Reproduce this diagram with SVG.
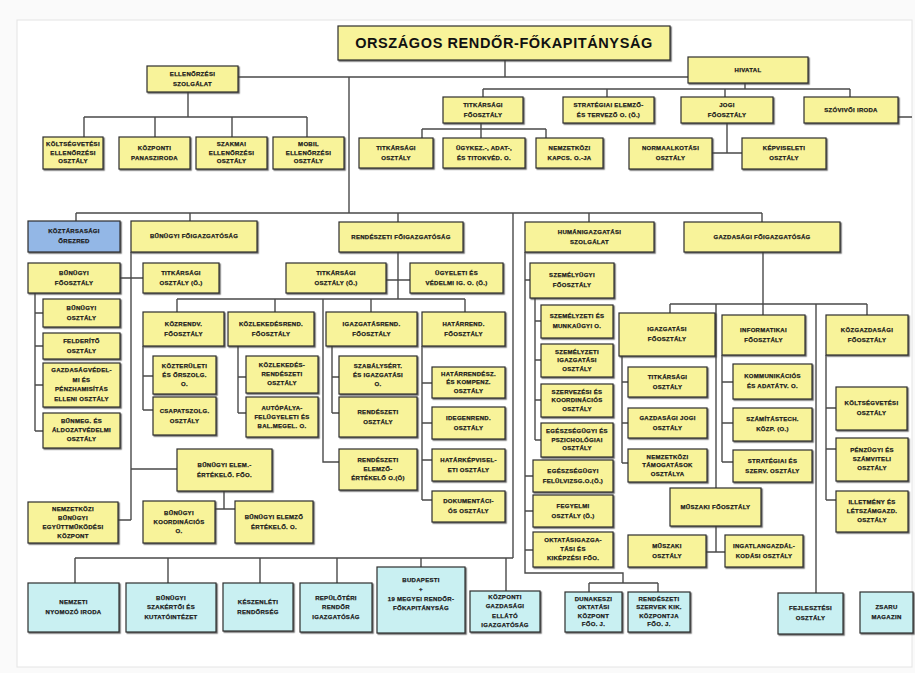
<svg xmlns="http://www.w3.org/2000/svg" width="915" height="673" viewBox="0 0 915 673">
<defs>
<filter id="sh" x="-10%" y="-10%" width="130%" height="140%">
<feDropShadow dx="1.2" dy="1.2" stdDeviation="0.4" flood-color="#444" flood-opacity="0.8"/>
</filter>
<style>
.b{fill:#f8f39a;stroke:#2e2e2e;stroke-width:1.2;filter:url(#sh)}
.c{fill:#c9f0f2;stroke:#2e2e2e;stroke-width:1.2;filter:url(#sh)}
.k{fill:#93b7e6;stroke:#2e2e2e;stroke-width:1.2;filter:url(#sh)}
.t{font-family:"Liberation Sans",Arial,sans-serif;font-weight:bold;font-size:6px;letter-spacing:0.3px;fill:#1a1a1a;stroke:#1a1a1a;stroke-width:0.25px;text-anchor:middle}
.ti{font-family:"Liberation Sans",Arial,sans-serif;font-weight:bold;font-size:14.5px;letter-spacing:0.6px;fill:#111;text-anchor:middle}
.l{fill:none;stroke:#4a4a4a;stroke-width:1.4}
</style>
</defs>
<rect x="0" y="0" width="915" height="673" fill="#fafafa"/>
<rect x="17" y="20" width="895" height="647" fill="#ffffff" stroke="#e4e4e4" stroke-width="1"/>

<g id="connectors" class="l">
<path d="M505,60V77M238,77H688M349,77V213"/>
<path d="M188,92V117M84,117H307M84,117V137M155,117V137M232,117V137M307,117V137"/>
<path d="M745,83V89M483,89H850M483,89V97M607,89V97M725,89V97M850,89V97M898,117H912"/>
<path d="M481,123V138M422,129H546M422,129V138M546,129V138"/>
<path d="M727,123V153M712,153H742"/>
<path d="M76,213H762M76,213V221M190,213V221M398,213V222M589,213V222M762,213V222M513,213V558"/>
<path d="M75,558H513M75,558V583M168,558V583M260,558V583M337,558V583M421,558V567M506,558V591"/>
<path d="M131,252V520M118,520H131M131,469H177M120,278H143"/>
<path d="M35,293V431M35,313H43M35,346H43M35,385H43M35,431H43"/>
<path d="M224,491V509M215,509H235"/>
<path d="M398,252V299M386,280H410M177,299H465M177,299V312M275,299V312M371,299V312M465,299V312M323,299V462H339"/>
<path d="M143,346V410M143,376H153M143,410H153"/>
<path d="M238,346V413M238,377H246M238,413H246"/>
<path d="M332,346V413M332,377H339M332,413H339"/>
<path d="M422,346V500M422,383H432M422,423H432M422,460H432M422,500H432"/>
<path d="M525,252V573H623V583M589,583H658M589,583V592M658,583V592M525,280H530M525,476H533M525,511H533M525,550H533"/>
<path d="M535,298V440M535,321H541M535,360H541M535,400H541M535,440H541"/>
<path d="M763,252V315M670,304H867M670,304V313M716,304V488M816,304V593M867,304V315"/>
<path d="M622,356V463M622,382H628M622,423H628M622,463H628"/>
<path d="M722,355V462M722,382H733M722,423H733M722,462H733"/>
<path d="M716,526V552M706,552H725"/>
<path d="M826,355V500M826,408H836M826,449H836M826,500H836"/>
</g>

<g id="n-orfk"><rect class="b" x="338" y="26" width="332" height="34"/><text class="ti" x="504" y="48">ORSZÁGOS RENDŐR-FŐKAPITÁNYSÁG</text></g>
<g id="n-ellenorzesi"><rect class="b" x="147" y="66" width="91" height="26"/><text class="t" x="192.5" y="75.5">ELLENŐRZÉSI</text><text class="t" x="192.5" y="85.5">SZOLGÁLAT</text></g>
<g id="n-koltsegvetesi-ell"><rect class="b" x="43" y="137" width="60" height="32"/><text class="t" x="73" y="146">KÖLTSÉGVETÉSI</text><text class="t" x="73" y="154.5">ELLENŐRZÉSI</text><text class="t" x="73" y="163">OSZTÁLY</text></g>
<g id="n-kozponti-panasz"><rect class="b" x="119" y="137" width="71" height="32"/><text class="t" x="154.5" y="149.5">KÖZPONTI</text><text class="t" x="154.5" y="159.5">PANASZIRODA</text></g>
<g id="n-szakmai-ell"><rect class="b" x="196" y="137" width="71" height="32"/><text class="t" x="231.5" y="146">SZAKMAI</text><text class="t" x="231.5" y="154.5">ELLENŐRZÉSI</text><text class="t" x="231.5" y="163">OSZTÁLY</text></g>
<g id="n-mobil-ell"><rect class="b" x="273" y="137" width="71" height="32"/><text class="t" x="308.5" y="146">MOBIL</text><text class="t" x="308.5" y="154.5">ELLENŐRZÉSI</text><text class="t" x="308.5" y="163">OSZTÁLY</text></g>
<g id="n-hivatal"><rect class="b" x="688" y="57" width="120" height="26"/><text class="t" x="748" y="71.5">HIVATAL</text></g>
<g id="n-titkarsagi-fo"><rect class="b" x="443" y="97" width="80" height="26"/><text class="t" x="483" y="106.5">TITKÁRSÁGI</text><text class="t" x="483" y="116.5">FŐOSZTÁLY</text></g>
<g id="n-strategiai"><rect class="b" x="563" y="97" width="91" height="26"/><text class="t" x="608.5" y="106.5">STRATÉGIAI ELEMZŐ-</text><text class="t" x="608.5" y="116.5">ÉS TERVEZŐ O. (Ö.)</text></g>
<g id="n-jogi"><rect class="b" x="681" y="97" width="92" height="26"/><text class="t" x="727" y="106.5">JOGI</text><text class="t" x="727" y="116.5">FŐOSZTÁLY</text></g>
<g id="n-szovivoi"><rect class="b" x="804" y="97" width="94" height="26"/><text class="t" x="851" y="111.5">SZÓVIVŐI IRODA</text></g>
<g id="n-titkarsagi-o"><rect class="b" x="359" y="138" width="74" height="30"/><text class="t" x="396" y="149.5">TITKÁRSÁGI</text><text class="t" x="396" y="159.5">OSZTÁLY</text></g>
<g id="n-ugykez"><rect class="b" x="443" y="138" width="82" height="30"/><text class="t" x="484" y="149.5">ÜGYKEZ.-, ADAT-,</text><text class="t" x="484" y="159.5">ÉS TITOKVÉD. O.</text></g>
<g id="n-nemzetkozi-kapcs"><rect class="b" x="536" y="138" width="67" height="30"/><text class="t" x="569.5" y="149.5">NEMZETKÖZI</text><text class="t" x="569.5" y="159.5">KAPCS. O.-JA</text></g>
<g id="n-normaalkotasi"><rect class="b" x="629" y="138" width="83" height="31"/><text class="t" x="670.5" y="150">NORMAALKOTÁSI</text><text class="t" x="670.5" y="160">OSZTÁLY</text></g>
<g id="n-kepviseleti"><rect class="b" x="742" y="138" width="84" height="31"/><text class="t" x="784" y="150">KÉPVISELETI</text><text class="t" x="784" y="160">OSZTÁLY</text></g>
<g id="n-orezred"><rect class="k" x="28" y="221" width="92" height="31"/><text class="t" x="74" y="233">KÖZTÁRSASÁGI</text><text class="t" x="74" y="243">ŐREZRED</text></g>
<g id="n-bunugyi-fig"><rect class="b" x="131" y="221" width="126" height="31"/><text class="t" x="194" y="238">BŰNÜGYI FŐIGAZGATÓSÁG</text></g>
<g id="n-rendeszeti-fig"><rect class="b" x="339" y="222" width="124" height="30"/><text class="t" x="401" y="238.5">RENDÉSZETI FŐIGAZGATÓSÁG</text></g>
<g id="n-human"><rect class="b" x="525" y="222" width="129" height="30"/><text class="t" x="589.5" y="233.5">HUMÁNIGAZGATÁSI</text><text class="t" x="589.5" y="243.5">SZOLGÁLAT</text></g>
<g id="n-gazdasagi-fig"><rect class="b" x="684" y="222" width="156" height="30"/><text class="t" x="762" y="238.5">GAZDASÁGI FŐIGAZGATÓSÁG</text></g>
<g id="n-bunugyi-fo"><rect class="b" x="28" y="263" width="92" height="30"/><text class="t" x="74" y="274.5">BŰNÜGYI</text><text class="t" x="74" y="284.5">FŐOSZTÁLY</text></g>
<g id="n-b-titkarsagi"><rect class="b" x="143" y="263" width="76" height="30"/><text class="t" x="181" y="274.5">TITKÁRSÁGI</text><text class="t" x="181" y="284.5">OSZTÁLY (Ö.)</text></g>
<g id="n-r-titkarsagi"><rect class="b" x="286" y="263" width="100" height="30"/><text class="t" x="336" y="274.5">TITKÁRSÁGI</text><text class="t" x="336" y="284.5">OSZTÁLY (Ö.)</text></g>
<g id="n-ugyeleti"><rect class="b" x="410" y="263" width="93" height="30"/><text class="t" x="456.5" y="274.5">ÜGYELETI ÉS</text><text class="t" x="456.5" y="284.5">VÉDELMI IG. O. (Ö.)</text></g>
<g id="n-szemelyugyi"><rect class="b" x="530" y="263" width="84" height="35"/><text class="t" x="572" y="277">SZEMÉLYÜGYI</text><text class="t" x="572" y="287">FŐOSZTÁLY</text></g>
<g id="n-bunugyi-o"><rect class="b" x="43" y="299" width="77" height="28"/><text class="t" x="81.5" y="309.5">BŰNÜGYI</text><text class="t" x="81.5" y="319.5">OSZTÁLY</text></g>
<g id="n-felderito"><rect class="b" x="43" y="333" width="77" height="26"/><text class="t" x="81.5" y="342.5">FELDERÍTŐ</text><text class="t" x="81.5" y="352.5">OSZTÁLY</text></g>
<g id="n-gazdasagvedelmi"><rect class="b" x="43" y="363" width="77" height="44"/><text class="t" x="81.5" y="372.3">GAZDASÁGVÉDEL-</text><text class="t" x="81.5" y="381.8">MI ÉS</text><text class="t" x="81.5" y="391.3">PÉNZHAMISÍTÁS</text><text class="t" x="81.5" y="400.8">ELLENI OSZTÁLY</text></g>
<g id="n-bunmeg"><rect class="b" x="43" y="413" width="77" height="35"/><text class="t" x="81.5" y="423">BŰNMEG. ÉS</text><text class="t" x="81.5" y="432">ÁLDOZATVÉDELMI</text><text class="t" x="81.5" y="441">OSZTÁLY</text></g>
<g id="n-kozrendv"><rect class="b" x="143" y="312" width="81" height="34"/><text class="t" x="183.5" y="325.5">KÖZRENDV.</text><text class="t" x="183.5" y="335.5">FŐOSZTÁLY</text></g>
<g id="n-kozlekedesrend"><rect class="b" x="228" y="312" width="86" height="34"/><text class="t" x="271" y="325.5">KÖZLEKEDÉSREND.</text><text class="t" x="271" y="335.5">FŐOSZTÁLY</text></g>
<g id="n-igazgatasrend"><rect class="b" x="326" y="312" width="91" height="34"/><text class="t" x="371.5" y="325.5">IGAZGATÁSREND.</text><text class="t" x="371.5" y="335.5">FŐOSZTÁLY</text></g>
<g id="n-hatarrend"><rect class="b" x="422" y="312" width="83" height="34"/><text class="t" x="463.5" y="325.5">HATÁRREND.</text><text class="t" x="463.5" y="335.5">FŐOSZTÁLY</text></g>
<g id="n-kozteruleti"><rect class="b" x="153" y="356" width="63" height="38"/><text class="t" x="184.5" y="367.5">KÖZTERÜLETI</text><text class="t" x="184.5" y="376.5">ÉS ŐRSZOLG.</text><text class="t" x="184.5" y="385.5">O.</text></g>
<g id="n-csapatszolg"><rect class="b" x="153" y="397" width="63" height="38"/><text class="t" x="184.5" y="412.5">CSAPATSZOLG.</text><text class="t" x="184.5" y="422.5">OSZTÁLY</text></g>
<g id="n-kozlekedes-rend-o"><rect class="b" x="246" y="356" width="72" height="37"/><text class="t" x="282" y="367">KÖZLEKEDÉS-</text><text class="t" x="282" y="376">RENDÉSZETI</text><text class="t" x="282" y="385">OSZTÁLY</text></g>
<g id="n-autopalya"><rect class="b" x="246" y="397" width="72" height="40"/><text class="t" x="282" y="409.5">AUTÓPÁLYA-</text><text class="t" x="282" y="418.5">FELÜGYELETI ÉS</text><text class="t" x="282" y="427.5">BAL.MEGEL. O.</text></g>
<g id="n-szabalysert"><rect class="b" x="339" y="356" width="78" height="38"/><text class="t" x="378" y="367.5">SZABÁLYSÉRT.</text><text class="t" x="378" y="376.5">ÉS IGAZGATÁSI</text><text class="t" x="378" y="385.5">O.</text></g>
<g id="n-rendeszeti-o"><rect class="b" x="339" y="397" width="78" height="40"/><text class="t" x="378" y="413.5">RENDÉSZETI</text><text class="t" x="378" y="423.5">OSZTÁLY</text></g>
<g id="n-rendeszeti-elemzo"><rect class="b" x="339" y="449" width="78" height="41"/><text class="t" x="378" y="462">RENDÉSZETI</text><text class="t" x="378" y="471">ELEMZŐ-</text><text class="t" x="378" y="480">ÉRTÉKELŐ O.(Ö)</text></g>
<g id="n-hatarrendesz"><rect class="b" x="432" y="367" width="73" height="31"/><text class="t" x="468.5" y="375.5">HATÁRRENDÉSZ.</text><text class="t" x="468.5" y="384">ÉS KOMPENZ.</text><text class="t" x="468.5" y="392.5">OSZTÁLY</text></g>
<g id="n-idegenrend"><rect class="b" x="432" y="407" width="73" height="32"/><text class="t" x="468.5" y="419.5">IDEGENREND.</text><text class="t" x="468.5" y="429.5">OSZTÁLY</text></g>
<g id="n-hatarkepvis"><rect class="b" x="432" y="449" width="73" height="32"/><text class="t" x="468.5" y="461.5">HATÁRKÉPVISEL-</text><text class="t" x="468.5" y="471.5">ETI OSZTÁLY</text></g>
<g id="n-dokumentacios"><rect class="b" x="432" y="491" width="73" height="31"/><text class="t" x="468.5" y="503">DOKUMENTÁCI-</text><text class="t" x="468.5" y="513">ÓS OSZTÁLY</text></g>
<g id="n-bunugyi-elem-fo"><rect class="b" x="177" y="449" width="95" height="42"/><text class="t" x="224.5" y="466.5">BŰNÜGYI ELEM.-</text><text class="t" x="224.5" y="476.5">ÉRTÉKELŐ. FŐO.</text></g>
<g id="n-bunugyi-koord"><rect class="b" x="143" y="501" width="72" height="42"/><text class="t" x="179" y="514.5">BŰNÜGYI</text><text class="t" x="179" y="523.5">KOORDINÁCIÓS</text><text class="t" x="179" y="532.5">O.</text></g>
<g id="n-bunugyi-elemzo-o"><rect class="b" x="235" y="501" width="78" height="42"/><text class="t" x="274" y="518.5">BŰNÜGYI ELEMZŐ</text><text class="t" x="274" y="528.5">ÉRTÉKELŐ. O.</text></g>
<g id="n-nemzetkozi-bunugyi"><rect class="b" x="28" y="502" width="90" height="41"/><text class="t" x="73" y="510.5">NEMZETKÖZI</text><text class="t" x="73" y="519.5">BŰNÜGYI</text><text class="t" x="73" y="528.5">EGYÜTTMŰKÖDÉSI</text><text class="t" x="73" y="537.5">KÖZPONT</text></g>
<g id="n-szem-munkaugyi"><rect class="b" x="541" y="305" width="72" height="33"/><text class="t" x="577" y="318">SZEMÉLYZETI ÉS</text><text class="t" x="577" y="328">MUNKAÜGYI O.</text></g>
<g id="n-szem-igazgatasi"><rect class="b" x="541" y="344" width="72" height="33"/><text class="t" x="577" y="353.5">SZEMÉLYZETI</text><text class="t" x="577" y="362">IGAZGATÁSI</text><text class="t" x="577" y="370.5">OSZTÁLY</text></g>
<g id="n-szervezesi"><rect class="b" x="541" y="384" width="72" height="33"/><text class="t" x="577" y="393.5">SZERVEZÉSI ÉS</text><text class="t" x="577" y="402">KOORDINÁCIÓS</text><text class="t" x="577" y="410.5">OSZTÁLY</text></g>
<g id="n-egeszsegugyi-psz"><rect class="b" x="541" y="423" width="72" height="34"/><text class="t" x="577" y="433">EGÉSZSÉGÜGYI ÉS</text><text class="t" x="577" y="441.5">PSZICHOLÓGIAI</text><text class="t" x="577" y="450">OSZTÁLY</text></g>
<g id="n-eg-felulvizsg"><rect class="b" x="533" y="460" width="80" height="32"/><text class="t" x="573" y="472.5">EGÉSZSÉGÜGYI</text><text class="t" x="573" y="482.5">FELÜLVIZSG.O.(Ö.)</text></g>
<g id="n-fegyelmi"><rect class="b" x="533" y="495" width="80" height="32"/><text class="t" x="573" y="507.5">FEGYELMI</text><text class="t" x="573" y="517.5">OSZTÁLY (Ö.)</text></g>
<g id="n-oktatasi"><rect class="b" x="533" y="532" width="80" height="35"/><text class="t" x="573" y="542">OKTATÁSIGAZGA-</text><text class="t" x="573" y="551">TÁSI ÉS</text><text class="t" x="573" y="560">KIKÉPZÉSI FŐO.</text></g>
<g id="n-igazgatasi-fo"><rect class="b" x="619" y="313" width="96" height="43"/><text class="t" x="667" y="331">IGAZGATÁSI</text><text class="t" x="667" y="341">FŐOSZTÁLY</text></g>
<g id="n-g-titkarsagi"><rect class="b" x="628" y="367" width="79" height="30"/><text class="t" x="667.5" y="378.5">TITKÁRSÁGI</text><text class="t" x="667.5" y="388.5">OSZTÁLY</text></g>
<g id="n-gazdasagi-jogi"><rect class="b" x="628" y="408" width="79" height="30"/><text class="t" x="667.5" y="419.5">GAZDASÁGI JOGI</text><text class="t" x="667.5" y="429.5">OSZTÁLY</text></g>
<g id="n-nemzetkozi-tam"><rect class="b" x="628" y="449" width="79" height="33"/><text class="t" x="667.5" y="458.5">NEMZETKÖZI</text><text class="t" x="667.5" y="467">TÁMOGATÁSOK</text><text class="t" x="667.5" y="475.5">OSZTÁLYA</text></g>
<g id="n-informatikai"><rect class="b" x="722" y="315" width="83" height="40"/><text class="t" x="763.5" y="331.5">INFORMATIKAI</text><text class="t" x="763.5" y="341.5">FŐOSZTÁLY</text></g>
<g id="n-kommunikacios"><rect class="b" x="733" y="364" width="79" height="35"/><text class="t" x="772.5" y="378">KOMMUNIKÁCIÓS</text><text class="t" x="772.5" y="388">ÉS ADATÁTV. O.</text></g>
<g id="n-szamitastech"><rect class="b" x="733" y="408" width="79" height="33"/><text class="t" x="772.5" y="421">SZÁMÍTÁSTECH.</text><text class="t" x="772.5" y="431">KÖZP. (O.)</text></g>
<g id="n-strategiai-szerv"><rect class="b" x="733" y="450" width="79" height="32"/><text class="t" x="772.5" y="462.5">STRATÉGIAI ÉS</text><text class="t" x="772.5" y="472.5">SZERV. OSZTÁLY</text></g>
<g id="n-kozgazdasagi"><rect class="b" x="826" y="315" width="82" height="40"/><text class="t" x="867" y="331.5">KÖZGAZDASÁGI</text><text class="t" x="867" y="341.5">FŐOSZTÁLY</text></g>
<g id="n-koltsegvetesi-o"><rect class="b" x="836" y="387" width="71" height="43"/><text class="t" x="871.5" y="405">KÖLTSÉGVETÉSI</text><text class="t" x="871.5" y="415">OSZTÁLY</text></g>
<g id="n-penzugyi"><rect class="b" x="836" y="438" width="72" height="43"/><text class="t" x="872" y="452">PÉNZÜGYI ÉS</text><text class="t" x="872" y="461">SZÁMVITELI</text><text class="t" x="872" y="470">OSZTÁLY</text></g>
<g id="n-illetmeny"><rect class="b" x="836" y="491" width="72" height="41"/><text class="t" x="872" y="504">ILLETMÉNY ÉS</text><text class="t" x="872" y="513">LÉTSZÁMGAZD.</text><text class="t" x="872" y="522">OSZTÁLY</text></g>
<g id="n-muszaki-fo"><rect class="b" x="670" y="488" width="91" height="38"/><text class="t" x="715.5" y="508.5">MŰSZAKI FŐOSZTÁLY</text></g>
<g id="n-muszaki-o"><rect class="b" x="628" y="535" width="78" height="32"/><text class="t" x="667" y="547.5">MŰSZAKI</text><text class="t" x="667" y="557.5">OSZTÁLY</text></g>
<g id="n-ingatlan"><rect class="b" x="725" y="535" width="78" height="32"/><text class="t" x="764" y="547.5">INGATLANGAZDÁL-</text><text class="t" x="764" y="557.5">KODÁSI OSZTÁLY</text></g>
<g id="n-nni"><rect class="c" x="28" y="583" width="91" height="49"/><text class="t" x="73.5" y="604">NEMZETI</text><text class="t" x="73.5" y="614">NYOMOZÓ IRODA</text></g>
<g id="n-bszki"><rect class="c" x="126" y="583" width="90" height="49"/><text class="t" x="171" y="599.5">BŰNÜGYI</text><text class="t" x="171" y="609">SZAKÉRTŐI ÉS</text><text class="t" x="171" y="618.5">KUTATÓINTÉZET</text></g>
<g id="n-kr"><rect class="c" x="223" y="583" width="70" height="48"/><text class="t" x="258" y="603.5">KÉSZENLÉTI</text><text class="t" x="258" y="613.5">RENDŐRSÉG</text></g>
<g id="n-rri"><rect class="c" x="300" y="583" width="72" height="49"/><text class="t" x="336" y="599.5">REPÜLŐTÉRI</text><text class="t" x="336" y="609">RENDŐR</text><text class="t" x="336" y="618.5">IGAZGATÓSÁG</text></g>
<g id="n-brfk"><rect class="c" x="377" y="567" width="88" height="66"/><text class="t" x="421" y="582">BUDAPESTI</text><text class="t" x="421" y="591">+</text><text class="t" x="421" y="600.5">19 MEGYEI RENDŐR-</text><text class="t" x="421" y="610">FŐKAPITÁNYSÁG</text></g>
<g id="n-kgei"><rect class="c" x="470" y="591" width="70" height="41"/><text class="t" x="505" y="598.8">KÖZPONTI</text><text class="t" x="505" y="608.3">GAZDASÁGI</text><text class="t" x="505" y="617.8">ELLÁTÓ</text><text class="t" x="505" y="627.3">IGAZGATÓSÁG</text></g>
<g id="n-dunakeszi"><rect class="c" x="565" y="592" width="57" height="40"/><text class="t" x="593.5" y="600.8">DUNAKESZI</text><text class="t" x="593.5" y="609.3">OKTATÁSI</text><text class="t" x="593.5" y="617.8">KÖZPONT</text><text class="t" x="593.5" y="626.3">FŐO. J.</text></g>
<g id="n-rszkk"><rect class="c" x="628" y="592" width="62" height="40"/><text class="t" x="659" y="600.8">RENDÉSZETI</text><text class="t" x="659" y="609.3">SZERVEK KIK.</text><text class="t" x="659" y="617.8">KÖZPONTJA</text><text class="t" x="659" y="626.3">FŐO. J.</text></g>
<g id="n-fejlesztesi"><rect class="c" x="778" y="593" width="65" height="41"/><text class="t" x="810.5" y="610">FEJLESZTÉSI</text><text class="t" x="810.5" y="620">OSZTÁLY</text></g>
<g id="n-zsaru"><rect class="c" x="860" y="592" width="53" height="41"/><text class="t" x="886.5" y="609">ZSARU</text><text class="t" x="886.5" y="619">MAGAZIN</text></g>
</svg>
